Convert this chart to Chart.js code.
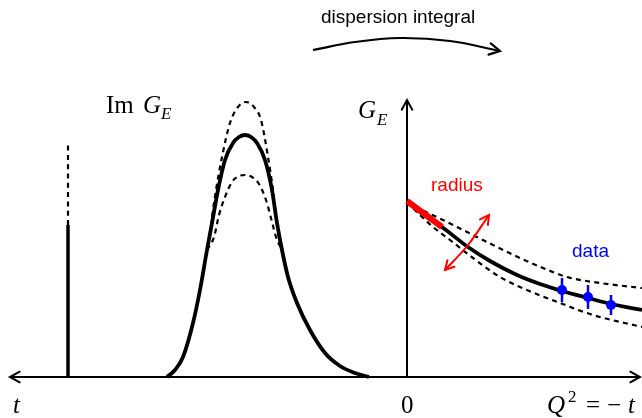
<!DOCTYPE html>
<html>
<head>
<meta charset="utf-8">
<script src="https://cdn.jsdelivr.net/npm/chart.js@4.4.1/dist/chart.umd.min.js"></script>
<style>
  html, body { margin: 0; padding: 0; background: #fff; }
  #c { display: block; }
</style>
</head>
<body>
<canvas id="c" width="642" height="418"></canvas>
<script>
/* sketch: Im G_E in the timelike region, G_E(Q^2) in the spacelike region */

// x: arbitrary t units, 0 at the vertical axis; y: arbitrary units, 0 on the t axis
const xMin = -407, xMax = 235, yMin = -41, yMax = 377;

// axes
const axisX = [-397, 233];
const axisTop = 277;

// pole (left spike)
const poleX = -339;
const poleSolidTop = 152;
const poleDashTop = 232;

// Im G_E peak, central and the two error curves
const peakX = [-240, -232, -224, -214, -207, -200, -195, -189, -182, -174, -168, -162, -156, -150, -142, -135, -130, -125, -119, -110, -97, -82, -67, -52, -38];
const peakY = [0, 7, 20, 54, 87, 127, 154, 187, 217, 234, 240, 242, 240, 234, 217, 187, 154, 127, 100, 74, 47, 24, 11, 4, 0];
const peakHiX = [-197, -194, -191, -185, -177, -169, -161, -153, -146, -139, -134, -130, -126];
const peakHiY = [142, 167, 187, 220, 254, 270, 275, 270, 257, 220, 187, 152, 127];
const peakLoX = [-200, -193, -188, -182, -175, -168, -162, -155, -148, -141, -136, -131, -125];
const peakLoY = [127, 140, 162, 180, 195, 201, 202, 200, 193, 177, 159, 140, 127];

// G_E(Q^2) curve and band
const geX = [0, 13, 35, 61, 83, 110, 133, 155, 181, 204, 235];
const geY = [175, 165, 150, 130, 116, 102, 93, 86, 79, 73, 67];
const geHiX = [0, 15, 36, 60, 86, 113, 136, 160, 193, 235];
const geHiY = [175, 167, 157, 145, 132, 119, 109, 100, 94, 89];
const geLoX = [0, 13, 26, 43, 66, 93, 120, 153, 186, 235];
const geLoY = [175, 162, 150, 137, 119, 100, 87, 74, 62, 50];

// slope at Q^2 = 0 (radius)
const radiusX = [0, 35];
const radiusY = [176, 150];
const radiusArrowX = [38, 61, 82];
const radiusArrowY = [107, 132, 162];

// data points
const dataX = [155, 181, 204];
const dataY = [87, 80, 72];
const dataErr = [12, 12, 10];

// dispersion integral arrow
const arcX = [-94, -52, -7, 43, 93];
const arcY = [327, 335, 339, 336, 326];

const pts = (xs, ys) => xs.map((x, i) => ({ x, y: ys[i] }));

const SANS = '19px "Liberation Sans", Arial, sans-serif';
const SERIF = '25px "Liberation Serif", "Times New Roman", serif';
const SERIF_I = 'italic 25px "Liberation Serif", "Times New Roman", serif';
const SUB_I = 'italic 17px "Liberation Serif", "Times New Roman", serif';
const SUP = '17px "Liberation Serif", "Times New Roman", serif';

const labels = [
  { x: -86, y: 354, color: '#000', parts: [{ t: 'dispersion integral', f: SANS }] },
  { x: 24, y: 186, color: '#ff0000', parts: [{ t: 'radius', f: SANS }] },
  { x: 165, y: 120, color: '#0000ff', parts: [{ t: 'data', f: SANS }] },
  { x: -301, y: 264, color: '#000', parts: [{ t: 'Im', f: SERIF }, { t: 'G', f: SERIF_I, dx: 37 }, { t: 'E', f: SUB_I, dx: 55, dy: 6 }] },
  { x: -49, y: 259, color: '#000', parts: [{ t: 'G', f: SERIF_I }, { t: 'E', f: SUB_I, dx: 19, dy: 7 }] },
  { x: -394, y: -36, color: '#000', parts: [{ t: 't', f: SERIF_I }] },
  { x: -6, y: -36, color: '#000', parts: [{ t: '0', f: SERIF }] },
  { x: 140, y: -36, color: '#000', parts: [{ t: 'Q', f: SERIF_I }, { t: '2', f: SUP, dx: 21, dy: -11 }, { t: '=', f: SERIF, dx: 39 }, { t: '\u2212', f: SERIF, dx: 60 }, { t: 't', f: SERIF_I, dx: 81 }] },
];

const line = (data, color, width, extra) => Object.assign({
  data, showLine: true, borderColor: color, backgroundColor: color,
  borderWidth: width, pointRadius: 0, tension: 0, clip: false, order: 5
}, extra || {});

const datasets = [
  line([{ x: axisX[0], y: 0 }, { x: axisX[1], y: 0 }], '#000', 2, { arrow: 'both', arrowLen: 11, order: 9 }),
  line([{ x: 0, y: 0 }, { x: 0, y: axisTop }], '#000', 2, { arrow: 'end', arrowLen: 11, order: 9 }),
  line([{ x: poleX, y: 0 }, { x: poleX, y: poleSolidTop }], '#000', 3.5),
  line([{ x: poleX, y: poleSolidTop }, { x: poleX, y: poleDashTop }], '#000', 2.2, { borderDash: [5, 4.3] }),
  line(pts(peakX, peakY), '#000', 3.8, { cubicInterpolationMode: 'monotone' }),
  line(pts(peakHiX, peakHiY), '#000', 2.2, { borderDash: [5, 4.3], cubicInterpolationMode: 'monotone' }),
  line(pts(peakLoX, peakLoY), '#000', 2.2, { borderDash: [5, 4.3], cubicInterpolationMode: 'monotone' }),
  line(pts(geX, geY), '#000', 3.8, { cubicInterpolationMode: 'monotone' }),
  line(pts(geHiX, geHiY), '#000', 2.2, { borderDash: [5, 4.3], cubicInterpolationMode: 'monotone' }),
  line(pts(geLoX, geLoY), '#000', 2.2, { borderDash: [5, 4.3], cubicInterpolationMode: 'monotone' }),
  line(pts(radiusX, radiusY), '#ff0000', 6, { order: 2, borderCapStyle: 'butt' }),
  line(pts(radiusArrowX, radiusArrowY), '#ff0000', 2, { order: 2, tension: 0.4, arrow: 'both', arrowLen: 10 }),
  line(pts(arcX, arcY), '#000', 2.2, { tension: 0.4, arrow: 'end', arrowLen: 12 }),
];
// error bars
dataX.forEach((x, i) => {
  datasets.push(line([{ x, y: dataY[i] - dataErr[i] }, { x, y: dataY[i] + dataErr[i] }], '#0000ff', 2.5, { order: 1 }));
});
datasets.push({
  data: pts(dataX, dataY), showLine: false, pointRadius: 5, pointBorderWidth: 0,
  backgroundColor: '#0000ff', borderColor: '#0000ff', clip: false, order: 0
});

function drawHead(ctx, tx, ty, fx, fy, len, color, width) {
  const a = Math.atan2(ty - fy, tx - fx), h = 0.5;
  ctx.save();
  ctx.strokeStyle = color;
  ctx.lineWidth = width;
  ctx.lineCap = 'round';
  ctx.lineJoin = 'miter';
  ctx.beginPath();
  ctx.moveTo(tx - len * Math.cos(a - h), ty - len * Math.sin(a - h));
  ctx.lineTo(tx, ty);
  ctx.lineTo(tx - len * Math.cos(a + h), ty - len * Math.sin(a + h));
  ctx.stroke();
  ctx.restore();
}

const decor = {
  id: 'decor',
  afterDatasetsDraw(chart) {
    const ctx = chart.ctx, sx = chart.scales.x, sy = chart.scales.y;
    chart.data.datasets.forEach(ds => {
      if (!ds.arrow) return;
      const p = ds.data.map(d => [sx.getPixelForValue(d.x), sy.getPixelForValue(d.y)]);
      const n = p.length;
      drawHead(ctx, p[n - 1][0], p[n - 1][1], p[n - 2][0], p[n - 2][1], ds.arrowLen, ds.borderColor, ds.borderWidth);
      if (ds.arrow === 'both') drawHead(ctx, p[0][0], p[0][1], p[1][0], p[1][1], ds.arrowLen, ds.borderColor, ds.borderWidth);
    });
    ctx.save();
    ctx.textBaseline = 'alphabetic';
    ctx.textAlign = 'left';
    labels.forEach(l => {
      const x0 = sx.getPixelForValue(l.x), y0 = sy.getPixelForValue(l.y);
      ctx.fillStyle = l.color;
      let cur = x0;
      l.parts.forEach(p => {
        ctx.font = p.f;
        const px = p.dx != null ? x0 + p.dx : cur;
        ctx.fillText(p.t, px, y0 + (p.dy || 0));
        cur = px + ctx.measureText(p.t).width;
      });
    });
    ctx.restore();
  }
};

new Chart(document.getElementById('c'), {
  type: 'scatter',
  data: { datasets },
  options: {
    responsive: false,
    animation: false,
    layout: { padding: 0, autoPadding: false },
    plugins: { legend: { display: false }, tooltip: { enabled: false } },
    scales: {
      x: { type: 'linear', display: false, min: xMin, max: xMax },
      y: { type: 'linear', display: false, min: yMin, max: yMax }
    }
  },
  plugins: [decor]
});
</script>
</body>
</html>
